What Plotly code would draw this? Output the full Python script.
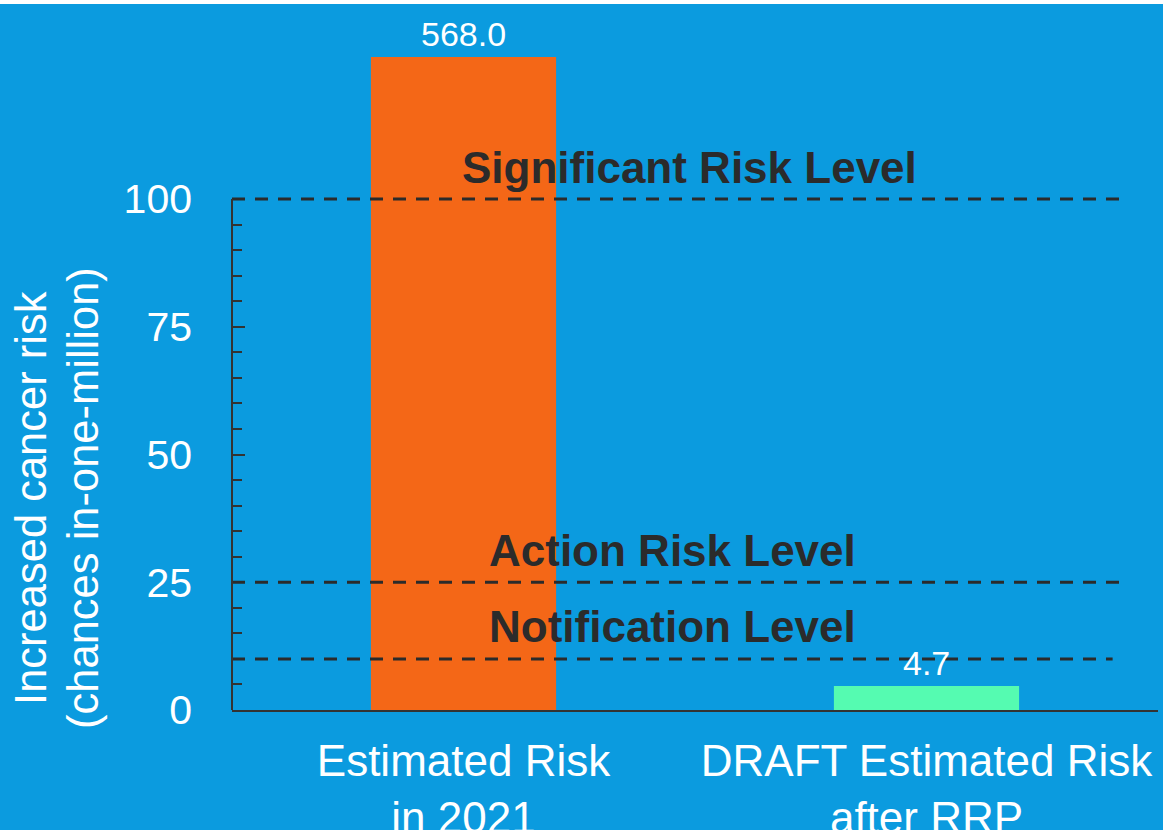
import plotly.graph_objects as go

# ---- data ----
categories = ["Estimated Risk<br>in 2021", "DRAFT Estimated Risk<br>after RRP"]
risk_values = [568.0, 4.7]
bar_colors = ["#F46717", "#55FBB1"]

level_names = ["Significant Risk Level", "Action Risk Level", "Notification Level"]
level_values = [100, 25, 10]

y_tick_values = [0, 25, 50, 75, 100]
y_minor_values = [5, 10, 15, 20, 30, 35, 40, 45, 55, 60, 65, 70, 80, 85, 90, 95]

y_title_lines = ["Increased cancer risk", "(chances in-one-million)"]

# ---- style ----
BG = "#0B9BDF"
DARK = "#2B2B2B"
FONT = "Liberation Sans, Arial, sans-serif"
Y_MAX = 127.8

fig = go.Figure()
fig.add_trace(go.Bar(
    x=categories, y=risk_values, marker_color=bar_colors,
    marker_line_width=0, width=0.4, hoverinfo="x+y",
))

# value labels
for c, v in zip(categories, risk_values):
    fig.add_annotation(x=c, y=min(v, Y_MAX), text=f"{v:.1f}", showarrow=False,
                       xref="x", yref="y", yanchor="bottom", yshift=2,
                       font=dict(family=FONT, size=34, color="white"))

# threshold lines and labels
line_ends = [0.9676, 0.963, 0.951]
label_x = [0.494, 0.4757, 0.4757]
for name, val, x1, lx in zip(level_names, level_values, line_ends, label_x):
    fig.add_shape(type="line", xref="paper", yref="y", x0=0, x1=x1, y0=val, y1=val,
                  line=dict(color=DARK, width=3, dash="13px,10px"), layer="above")
    fig.add_annotation(x=lx, y=val, xref="paper", yref="y", text=f"<b>{name}</b>",
                       showarrow=False, yanchor="middle", yshift=32,
                       font=dict(family=FONT, size=44, color=DARK))

# y axis title as two rotated lines
for i, line in enumerate(y_title_lines):
    fig.add_annotation(x=0, y=41.5, xref="paper", yref="y", text=line, textangle=-90,
                       showarrow=False, xanchor="center", yanchor="middle",
                       xshift=-201 + 52 * i,
                       font=dict(family=FONT, size=43.5, color="white"))

# y axis line only up to 100
fig.add_shape(type="line", xref="paper", yref="y", x0=0, x1=0, y0=0, y1=y_tick_values[-1],
              line=dict(color="#333333", width=2), layer="above")

# thin white strip at the very top
fig.add_shape(type="rect", xref="paper", yref="paper", x0=-0.3, x1=1.1,
              y0=1 + 53 / 653, y1=1.12, fillcolor="white", line_width=0, layer="above")

fig.update_layout(
    width=1163, height=830,
    paper_bgcolor=BG, plot_bgcolor=BG,
    margin=dict(l=232, r=5, t=57, b=120, autoexpand=False),
    showlegend=False,
    font=dict(family=FONT, color="white"),
    bargap=0.6,
)
fig.update_xaxes(
    showline=True, linecolor="#333333", linewidth=2, ticks="",
    tickfont=dict(family=FONT, size=44, color="white"),
    showgrid=False, zeroline=False, automargin=False, ticklabelstandoff=11,
)
fig.update_yaxes(
    range=[0, Y_MAX], showline=False, showgrid=False, zeroline=False,
    tickmode="array", tickvals=y_tick_values, ticks="inside", ticklen=13,
    tickwidth=2, tickcolor="#333333",
    minor=dict(tickmode="array", tickvals=y_minor_values, ticks="inside",
               ticklen=10, tickwidth=2, tickcolor="#333333"),
    tickfont=dict(family=FONT, size=41, color="white"), ticklabelstandoff=39,
    automargin=False,
)

fig.write_html("out.html", config={"displayModeBar": False},
               post_script="document.body.style.margin='0';")
